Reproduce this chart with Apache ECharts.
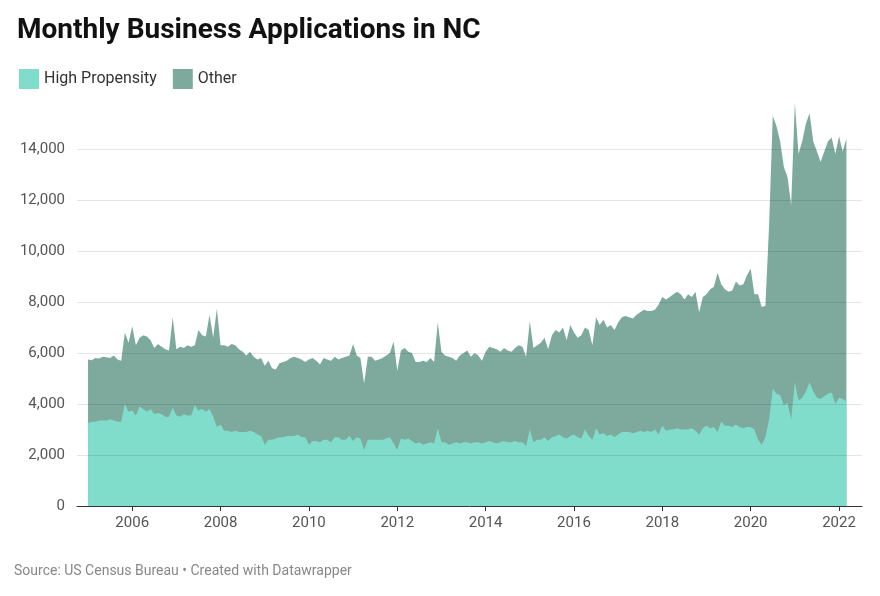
<!DOCTYPE html>
<html><head><meta charset="utf-8">
<script src="https://cdn.jsdelivr.net/npm/echarts@6/dist/echarts.min.js"></script>
<style>html,body{margin:0;padding:0;background:#fff}#c{width:880px;height:596px}</style>
</head><body><div id="c"></div>
<script>
// Monthly values, Jan 2005 .. Mar 2022
const startYear = 2005;
const totalApps = [
5750,5720,5800,5780,5850,5830,5800,5900,5750,5700,6800,6400,
7050,6300,6600,6700,6650,6500,6200,6350,6250,6150,6100,7400,
6150,6250,6200,6300,6250,6300,6900,6700,6650,7500,6600,7750,
6300,6300,6250,6350,6300,6150,6050,5900,6050,5850,5750,5800,
5500,5700,5400,5350,5600,5650,5700,5800,5850,5800,5750,5650,
5750,5800,5700,5550,5800,5750,5700,5850,5750,5800,5850,5900,
6350,5900,5800,4800,5850,5850,5700,5750,5800,5900,6000,6450,
5300,6100,6200,6050,6000,5650,5650,5700,5650,5800,5650,7200,
6050,5900,5850,5800,5700,5900,6000,6100,5850,6000,5900,5700,
6050,6250,6200,6150,6050,6200,6100,6050,6200,6300,6250,5850,
7250,6200,6300,6400,6600,6150,6700,6900,6800,7000,6500,7100,
6800,6600,6700,7000,6900,6300,7400,7100,7300,7000,7100,6900,
7200,7400,7450,7400,7350,7500,7600,7700,7650,7650,7700,7900,
8200,8100,8200,8300,8400,8300,8100,8300,8200,8400,7600,8200,
8300,8500,8600,9150,8700,8500,8400,8450,8800,8650,8700,9050,
9300,8300,8300,7800,7850,11000,15300,14900,14300,13300,12900,11800,
15800,13800,14300,15000,15400,14300,13900,13500,13900,14300,14450,13800,
14500,13900,14400
];
const highPropensity = [
3250,3300,3300,3350,3350,3350,3400,3350,3300,3300,4000,3700,
3750,3550,3900,3800,3700,3800,3600,3650,3600,3500,3500,3850,
3550,3500,3600,3550,3550,3950,3750,3800,3700,3800,3500,3100,
3200,2950,2950,2900,2950,2900,2900,2900,2950,2900,2800,2750,
2400,2600,2600,2650,2700,2700,2750,2750,2750,2800,2700,2700,
2400,2550,2550,2500,2600,2600,2500,2700,2700,2600,2600,2750,
2550,2700,2650,2200,2600,2600,2600,2600,2600,2650,2700,2450,
2200,2650,2600,2650,2550,2450,2500,2400,2450,2500,2450,3050,
2500,2500,2400,2450,2500,2450,2500,2500,2450,2500,2500,2450,
2500,2550,2500,2450,2500,2550,2500,2500,2550,2500,2500,2350,
3000,2500,2600,2600,2700,2550,2700,2750,2800,2700,2650,2750,
2800,2700,2650,3000,2750,2600,3050,2800,2850,2750,2800,2700,
2800,2900,2900,2900,2850,2900,2950,2900,2950,2900,3000,2800,
3150,2950,3000,3000,3050,3000,3000,3000,3050,2950,2800,3050,
3150,3050,3100,2900,3300,3150,3150,3100,3200,3100,3050,3100,
3100,3000,2600,2400,2700,3400,4600,4400,4350,3950,4050,3400,
4850,4150,4250,4500,4850,4500,4250,4200,4300,4400,4450,4000,
4250,4200,4100
];
const yearTicks = [2006,2008,2010,2012,2014,2016,2018,2020,2022];
const valueTicks = [0,2000,4000,6000,8000,10000,12000,14000];

const hpData = highPropensity.map((v,i)=>[startYear+i/12, v]);
const totalData = totalApps.map((v,i)=>[startYear+i/12, v]);

const chart = echarts.init(document.getElementById('c'));
chart.setOption({
  animation:false,
  textStyle:{fontFamily:'Roboto'},
  title:{text:'Monthly Business Applications in NC',left:12,top:12,
    textStyle:{fontSize:28,fontWeight:'bold',color:'#111',fontFamily:'Roboto'}},
  legend:{left:14,top:64,itemWidth:20,itemHeight:20,itemGap:16,icon:'rect',
    textStyle:{fontSize:16,color:'#333'},data:['High Propensity','Other']},
  graphic:[{type:'text',left:14,top:564,style:{text:'Source: US Census Bureau • Created with Datawrapper',fill:'#888',font:'14px Roboto'}}],
  grid:{left:77,right:18,top:98,bottom:90},
  xAxis:{type:'value',min:2004.75,max:2022.52,
    axisLine:{show:true,lineStyle:{color:'#333'}},
    axisTick:{show:true,customValues:yearTicks,length:5,lineStyle:{color:'#333'}},
    axisLabel:{customValues:yearTicks,formatter:v=>String(v),fontSize:15,color:'#555',margin:10},
    splitLine:{show:false}},
  yAxis:{type:'value',min:0,max:16000,
    axisLine:{show:false},axisTick:{show:false},splitLine:{show:false},
    axisLabel:{customValues:valueTicks,formatter:v=>v.toLocaleString('en-US'),fontSize:15,color:'#555',margin:12}},
  series:[
    {name:'Other',type:'line',data:totalData,symbol:'none',
     lineStyle:{width:0},itemStyle:{color:'#7eaa9e'},areaStyle:{color:'#7eaa9e',opacity:1},z:2},
    {name:'High Propensity',type:'line',data:hpData,symbol:'none',
     lineStyle:{width:0},itemStyle:{color:'#80dccb'},areaStyle:{color:'#80dccb',opacity:1},
     markLine:{silent:true,symbol:'none',label:{show:false},
       lineStyle:{color:'rgba(0,0,0,0.1)',type:'solid',width:1},
       data:valueTicks.filter(v=>v>0).map(v=>({yAxis:v}))},z:3}
  ]
});
</script></body></html>
